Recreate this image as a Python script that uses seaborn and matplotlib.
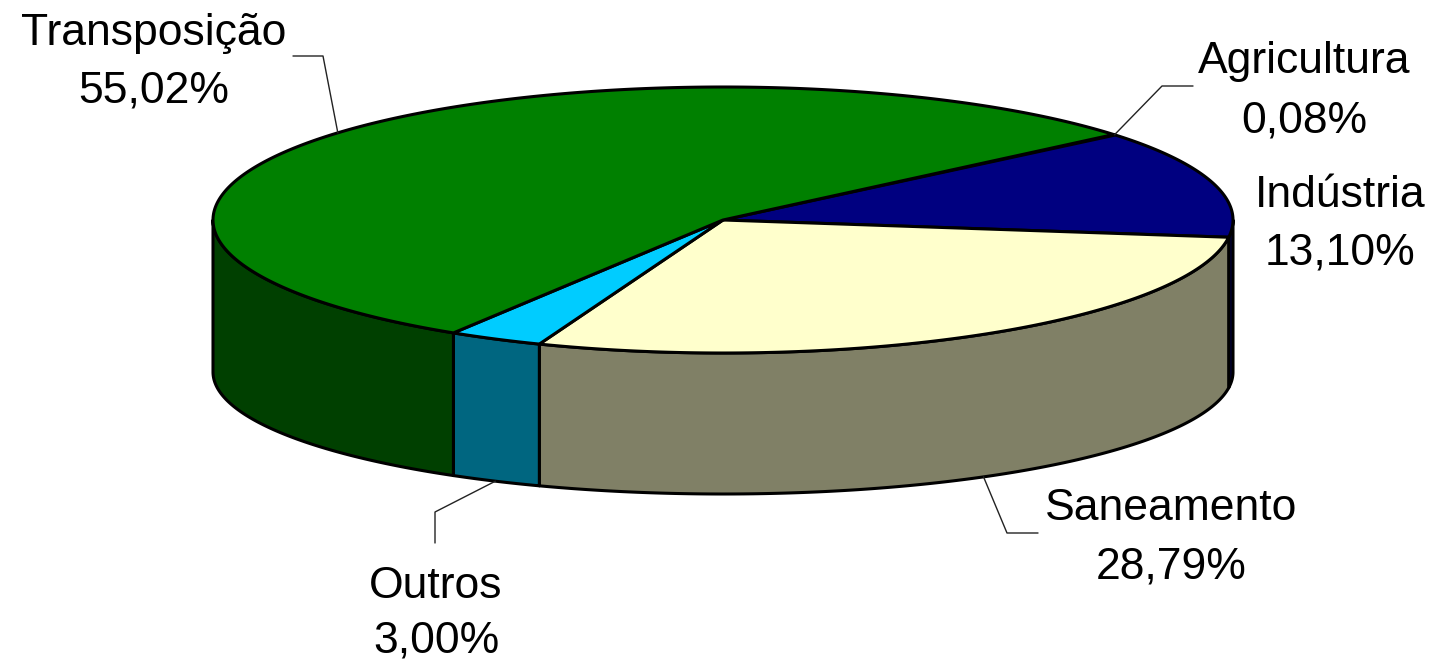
import numpy as np
import matplotlib
matplotlib.use("Agg")
import matplotlib.pyplot as plt
from matplotlib.patches import Polygon
import seaborn as sns

# Shares of the water allocation, in clockwise order from the start angle
categories = ["Agricultura", "Indústria", "Saneamento", "Outros", "Transposição"]
shares = [0.08, 13.10, 28.79, 3.00, 55.02]
pct_labels = ["0,08%", "13,10%", "28,79%", "3,00%", "55,02%"]
top_colors = ["#9999FF", "#000080", "#FFFFCC", "#00CCFF", "#008000"]
side_colors = ["#4D4D80", "#000040", "#808066", "#006680", "#004000"]

sns.set_theme(style="white")
plt.rcParams["font.family"] = ["Liberation Sans", "DejaVu Sans"]

fig = plt.figure(figsize=(14.32, 6.62), dpi=100)
ax = fig.add_axes([0, 0, 1, 1])
ax.set_xlim(0, 1432)
ax.set_ylim(662, 0)
ax.axis("off")

# Geometry of the tilted disc (top ellipse and base ellipse)
CX, CY, RX, RY = 723, 220, 510, 133
BY, BRY = 372, 122
START = 40.0

fracs = np.array(shares) / np.sum(shares)
edges = START - 360.0 * np.concatenate([[0.0], np.cumsum(fracs)])


def top_pt(deg):
    t = np.radians(deg)
    return CX + RX * np.cos(t), CY - RY * np.sin(t)


def base_pt(deg):
    t = np.radians(deg)
    return CX + RX * np.cos(t), BY - BRY * np.sin(t)


# Outer wall: only the front half (angles between -180 and 0) is visible
for i in range(len(shares)):
    hi, lo = edges[i], edges[i + 1]
    for k in (0, -360):
        a0, a1 = max(lo, -180 + k), min(hi, 0 + k)
        if a1 - a0 <= 1e-6:
            continue
        ts = np.linspace(a0, a1, 200)
        tx, ty = top_pt(ts)
        bx, by = base_pt(ts[::-1])
        poly = np.column_stack([np.concatenate([tx, bx]), np.concatenate([ty, by])])
        ax.add_patch(Polygon(poly, closed=True, facecolor=side_colors[i],
                             edgecolor="black", lw=2.2, joinstyle="round", zorder=2))

# Top face wedges
for i in range(len(shares)):
    ts = np.linspace(edges[i], edges[i + 1], 300)
    tx, ty = top_pt(ts)
    poly = np.column_stack([np.concatenate([[CX], tx]), np.concatenate([[CY], ty])])
    ax.add_patch(Polygon(poly, closed=True, facecolor=top_colors[i],
                         edgecolor="black", lw=2.2, joinstyle="round", zorder=3))

# Labels: name on the first line, percentage below
label_pos = {
    "Agricultura": (1304, 73, 132),
    "Indústria": (1340, 207, 265),
    "Saneamento": (1171, 520, 578),
    "Outros": (436, 598, 653),
    "Transposição": (154, 45, 102),
}
for name, pct in zip(categories, pct_labels):
    x, y1, y2 = label_pos[name]
    ax.text(x, y1, name, ha="center", va="baseline", fontsize=32, color="black")
    ax.text(x, y2, pct, ha="center", va="baseline", fontsize=32, color="black")

# Leader lines from the wedge midpoints to the labels
elbows = {
    "Agricultura": [(1162, 86), (1193, 86)],
    "Saneamento": [(1007, 533), (1038, 533)],
    "Outros": [(435, 512), (435, 543)],
    "Transposição": [(323, 56), (293, 56)],
}
for i, name in enumerate(categories):
    if name not in elbows:
        continue
    mid = (edges[i] + edges[i + 1]) / 2.0
    s = np.sin(np.radians(mid))
    ax0, ay0 = top_pt(mid) if s > 0 else base_pt(mid)
    xs = [ax0] + [p[0] for p in elbows[name]]
    ys = [ay0] + [p[1] for p in elbows[name]]
    ax.plot(xs, ys, color="#222222", lw=1, zorder=4)

fig.savefig("out.png", dpi=100, facecolor="white")
